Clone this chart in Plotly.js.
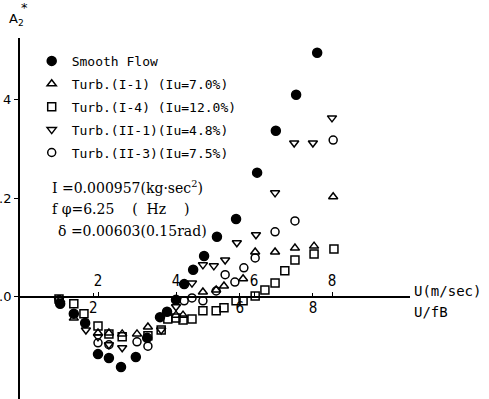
<!DOCTYPE html>
<html>
<head>
<meta charset="utf-8">
<script src="https://cdn.plot.ly/plotly-3.0.1.min.js"></script>
<style>html,body{margin:0;padding:0;background:#fff;}#chart{width:489px;height:399px;}</style>
</head>
<body>
<div id="chart"></div>
<script>
// Reduced wind speed U (m/sec) and aerodynamic derivative A2*
const smoothU = [1.03, 1.38, 1.67, 2.0, 2.28, 2.59, 2.97, 3.26, 3.59, 3.77, 4.0, 4.21, 4.44, 4.72, 5.05, 5.54, 6.08, 6.56, 7.08, 7.62];
const smoothA = [-0.14, -0.34, -0.53, -1.16, -1.24, -1.42, -1.22, -0.83, -0.41, -0.30, -0.06, 0.26, 0.55, 0.83, 1.22, 1.58, 2.52, 3.37, 4.10, 4.95];

const turbI1U = [1.03, 1.38, 2.0, 2.28, 2.62, 3.0, 3.28, 4.0, 4.18, 4.69, 5.03, 5.23, 5.72, 6.03, 6.54, 7.05, 7.54, 8.03];
const turbI1A = [-0.06, -0.43, -0.73, -0.73, -0.75, -0.75, -0.61, -0.37, -0.37, 0.10, 0.14, 0.22, 0.37, 0.91, 0.91, 0.99, 1.03, 2.03];

const turbI4U = [1.0, 1.38, 1.64, 2.0, 2.28, 2.62, 3.28, 3.62, 3.79, 4.0, 4.18, 4.41, 4.69, 5.03, 5.23, 5.54, 5.72, 6.03, 6.28, 6.54, 6.79, 7.05, 7.54, 8.05];
const turbI4A = [-0.04, -0.14, -0.34, -0.59, -0.75, -0.81, -0.79, -0.67, -0.45, -0.43, -0.47, -0.45, -0.28, -0.28, -0.22, -0.08, -0.08, 0.02, 0.14, 0.28, 0.53, 0.75, 0.87, 0.97];

const turbII1U = [1.0, 1.69, 2.0, 2.28, 2.62, 3.62, 4.0, 4.41, 4.69, 4.97, 5.26, 5.56, 6.05, 6.54, 7.03, 7.51, 8.0];
const turbII1A = [-0.06, -0.67, -0.81, -0.97, -1.03, -0.67, -0.20, 0.28, 0.65, 0.63, 0.75, 1.10, 1.26, 2.11, 3.12, 3.12, 3.63];

const turbII3U = [1.0, 2.0, 2.28, 3.0, 3.28, 4.21, 4.41, 4.69, 5.03, 5.26, 5.51, 5.74, 6.03, 6.54, 7.05, 8.03];
const turbII3A = [-0.06, -0.93, -0.97, -0.91, -1.00, -0.08, -0.02, -0.08, 0.12, 0.45, 0.30, 0.59, 0.79, 1.32, 1.54, 3.18];

const seriesNames = ['Smooth Flow', 'Turb.(I-1) (Iu=7.0%)', 'Turb.(I-4) (Iu=12.0%)', 'Turb.(II-1)(Iu=4.8%)', 'Turb.(II-3)(Iu=7.5%)'];
const uTicks = [2, 4, 6, 8];
const ufbTicks = [2, 6, 8];
const yTickVals = [0, 2, 4];
const yTickText = ['.0', '.2', '4'];
const paramLines = ['I =0.000957(kg·sec<sup>2</sup>)', 'f φ=6.25&nbsp;&nbsp;&nbsp;&nbsp;(&nbsp;&nbsp;Hz&nbsp;&nbsp;&nbsp;&nbsp;)', 'δ =0.00603(0.15rad)'];

const mono = 'DejaVu Sans Mono, monospace';
function tr(x, y, name, symbol, size, grp) {
  return {x: x, y: y, name: name, type: 'scatter', mode: 'markers', legendgroup: grp,
    marker: {symbol: symbol, size: size, color: 'black', line: {color: 'black', width: 1.5}}};
}
const data = [
  tr(smoothU, smoothA, seriesNames[0], 'circle', 9, 'a'),
  tr(turbI1U, turbI1A, seriesNames[1], 'triangle-up-open', 8, 'b'),
  tr(turbI4U, turbI4A, seriesNames[2], 'square-open', 8, 'c'),
  tr(turbII1U, turbII1A, seriesNames[3], 'triangle-down-open', 8, 'd'),
  tr(turbII3U, turbII3A, seriesNames[4], 'circle-open', 8, 'e'),
  // empty trace so the second (U/fB) axis is drawn
  {x: [], y: [], xaxis: 'x2', yaxis: 'y', type: 'scatter', mode: 'markers', showlegend: false, hoverinfo: 'skip'}
];
const pos = 102 / 361;
const tickFont = {family: 'Liberation Sans Narrow, DejaVu Sans Condensed, Liberation Sans, sans-serif', size: 15, color: 'black'};
const layout = {
  width: 489, height: 399,
  margin: {l: 20, r: 79, t: 38, b: 0, pad: 0},
  paper_bgcolor: 'white', plot_bgcolor: 'white',
  showlegend: true,
  legend: {x: 0.03, y: 0.978, xanchor: 'left', yanchor: 'top', bgcolor: 'rgba(0,0,0,0)',
    font: {family: mono, size: 13, color: 'black'}, tracegroupgap: 3, itemwidth: 30},
  xaxis: {range: [0, 10], anchor: 'free', position: pos, side: 'top', showline: true, linecolor: 'black', linewidth: 2,
    showgrid: false, zeroline: false, tickmode: 'array', tickvals: uTicks, ticks: 'outside', ticklen: 4, tickcolor: 'black',
    tickfont: tickFont},
  xaxis2: {range: [0, 10.65], overlaying: 'x', anchor: 'free', position: pos, side: 'bottom', showline: false,
    showgrid: false, zeroline: false, tickmode: 'array', tickvals: ufbTicks, ticks: 'inside', ticklen: 4, tickcolor: 'black',
    tickfont: tickFont},
  yaxis: {range: [-2.07, 5.25], showline: true, linecolor: 'black', linewidth: 2, showgrid: false, zeroline: false,
    tickmode: 'array', tickvals: yTickVals, ticktext: yTickText, ticks: 'outside', ticklen: 4, tickcolor: 'black',
    tickfont: {family: 'DejaVu Sans, sans-serif', size: 13, color: 'black'}},
  annotations: [
    {xref: 'paper', yref: 'paper', x: 392/390, y: (399-291)/361, xanchor: 'left', yanchor: 'middle', showarrow: false,
      text: 'U(m/sec)', font: {family: mono, size: 14, color: 'black'}},
    {xref: 'paper', yref: 'paper', x: 392/390, y: (399-312)/361, xanchor: 'left', yanchor: 'middle', showarrow: false,
      text: 'U/fB', font: {family: mono, size: 14, color: 'black'}},
    {xref: 'paper', yref: 'paper', x: -13/390, y: (399-19)/361, xanchor: 'left', yanchor: 'middle', showarrow: false,
      text: 'A<sub>2</sub>', font: {family: 'DejaVu Sans, sans-serif', size: 13, color: 'black'}},
    {xref: 'paper', yref: 'paper', x: 4/390, y: (399-8)/361, xanchor: 'center', yanchor: 'middle', showarrow: false,
      text: '*', font: {family: 'DejaVu Sans, sans-serif', size: 13, color: 'black'}},
    {xref: 'paper', yref: 'paper', x: 30/390, y: (399-187)/361, xanchor: 'left', yanchor: 'middle', showarrow: false,
      text: paramLines[0], font: {family: 'DejaVu Serif, serif', size: 14, color: 'black'}},
    {xref: 'paper', yref: 'paper', x: 30/390, y: (399-209)/361, xanchor: 'left', yanchor: 'middle', showarrow: false,
      text: paramLines[1], font: {family: 'DejaVu Serif, serif', size: 14, color: 'black'}},
    {xref: 'paper', yref: 'paper', x: 36/390, y: (399-231)/361, xanchor: 'left', yanchor: 'middle', showarrow: false,
      text: paramLines[2], font: {family: 'DejaVu Serif, serif', size: 14, color: 'black'}}
  ]
};
Plotly.newPlot('chart', data, layout, {staticPlot: true, displayModeBar: false});
</script>
</body>
</html>
